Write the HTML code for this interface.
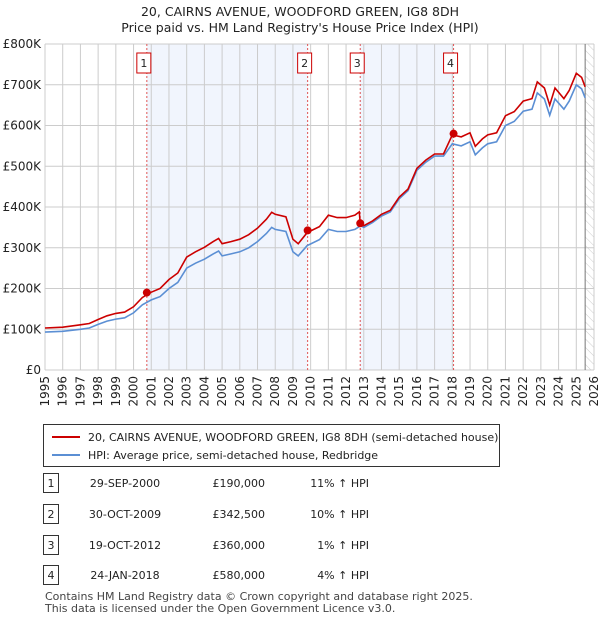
<!DOCTYPE html>
<html><head><meta charset="utf-8"><style>
body{margin:0;background:#fff;font-family:"Liberation Sans","DejaVu Sans",sans-serif;}
svg text{font-family:"DejaVu Sans","Liberation Sans",sans-serif;}
</style></head><body>
<svg id="c" width="600" height="620" xmlns="http://www.w3.org/2000/svg">
<defs><pattern id="hatch" width="6" height="6" patternUnits="userSpaceOnUse" patternTransform="rotate(-45)"><line x1="0" y1="0" x2="0" y2="6" stroke="#ccc" stroke-width="1"/></pattern></defs>
<text x="300" y="16" text-anchor="middle" font-size="12.5" fill="#222">20, CAIRNS AVENUE, WOODFORD GREEN, IG8 8DH</text>
<text x="300" y="32" text-anchor="middle" font-size="12.5" fill="#222">Price paid vs. HM Land Registry's House Price Index (HPI)</text>
<g id="plot"></g>
<g>
<rect x="43.5" y="424.5" width="456" height="42" fill="#fff" stroke="#333"/>
<line x1="52" y1="437" x2="80" y2="437" stroke="#cc0000" stroke-width="2"/>
<text x="88" y="441" font-size="11" fill="#222">20, CAIRNS AVENUE, WOODFORD GREEN, IG8 8DH (semi-detached house)</text>
<line x1="52" y1="455" x2="80" y2="455" stroke="#5b8fd4" stroke-width="2"/>
<text x="88" y="459" font-size="11" fill="#222">HPI: Average price, semi-detached house, Redbridge</text>
</g>
<g id="table" font-size="11" fill="#222"></g>
<text x="45" y="600" font-size="11" fill="#444">Contains HM Land Registry data © Crown copyright and database right 2025.</text>
<text x="45" y="612" font-size="11" fill="#444">This data is licensed under the Open Government Licence v3.0.</text>
</svg>
<script>
const hpiYears=[1995,1996,1997,1997.5,1998,1998.5,1999,1999.5,2000,2000.5,2001,2001.5,2002,2002.5,2003,2003.5,2004,2004.5,2004.8,2005,2005.5,2006,2006.5,2007,2007.5,2007.8,2008,2008.6,2009,2009.3,2009.8,2010.5,2011,2011.5,2012,2012.5,2012.75,2012.8,2013,2013.5,2014,2014.5,2015,2015.5,2016,2016.5,2017,2017.5,2018,2018.5,2019,2019.3,2019.7,2020,2020.5,2021,2021.5,2022,2022.5,2022.8,2023.2,2023.5,2023.8,2024.3,2024.6,2025,2025.3,2025.5];
const hpiValues=[93,95,100,103,112,120,125,128,140,160,172,180,200,215,250,262,272,285,292,280,285,290,300,315,335,350,345,340,290,280,305,320,345,340,340,345,352,355,350,362,378,388,420,440,490,510,525,525,555,550,560,528,545,555,560,600,610,635,640,680,665,625,665,640,660,700,690,668];
const propValues=[103,105,111,114,124,133,139,142,155,178,191,200,222,238,277,290,301,315,323,310,315,321,332,348,370,387,382,376,321,310,337,352,380,374,374,380,388,360,354,366,382,392,424,444,495,515,530,530,577,572,582,549,567,577,582,624,634,660,666,707,692,650,692,666,686,728,718,695];
const saleLabels=["1","2","3","4"];
const saleDates=[2000.75,2009.83,2012.8,2018.07];
const salePrices=[190,342.5,360,580];
const saleDateText=["29-SEP-2000","30-OCT-2009","19-OCT-2012","24-JAN-2018"];
const salePriceText=["£190,000","£342,500","£360,000","£580,000"];
const saleHpiText=["11% ↑ HPI","10% ↑ HPI","1% ↑ HPI","4% ↑ HPI"];
const yTicks=[0,100,200,300,400,500,600,700,800];
const yTickLabels=["£0","£100K","£200K","£300K","£400K","£500K","£600K","£700K","£800K"];
const xTicks=[1995,1996,1997,1998,1999,2000,2001,2002,2003,2004,2005,2006,2007,2008,2009,2010,2011,2012,2013,2014,2015,2016,2017,2018,2019,2020,2021,2022,2023,2024,2025,2026];

const NS="http://www.w3.org/2000/svg";
const L=45,R=594,T=44,B=370;
const xs=v=>L+(v-1995)/31*(R-L);
const ys=v=>B-v/800*(B-T);
const plot=document.getElementById('plot');
function mk(tag,a,parent){const e=document.createElementNS(NS,tag);for(const k in a)e.setAttribute(k,a[k]);(parent||plot).appendChild(e);return e;}
let bg=mk('rect',{x:L,y:T,width:R-L,height:B-T,fill:'#fff'});


// shaded spans
[[0,1],[2,3]].forEach(p=>{const r=mk('rect',{x:xs(saleDates[p[0]]),y:T,width:xs(saleDates[p[1]])-xs(saleDates[p[0]]),height:B-T,fill:'#eef3fc',opacity:0.8});

});
let h=mk('rect',{x:xs(2025.5),y:T,width:R-xs(2025.5),height:B-T,fill:'url(#hatch)'});


xTicks.forEach((t,i)=>{mk('line',{x1:xs(t),x2:xs(t),y1:T,y2:B,stroke:'#ccc','stroke-width':1});
const tx=mk('text',{x:0,y:0,'font-size':12,fill:'#222','text-anchor':'end',transform:`translate(${xs(t)+4},${B+6}) rotate(-90)`});tx.textContent=t;

});
yTicks.forEach((t,i)=>{mk('line',{x1:L,x2:R,y1:ys(t),y2:ys(t),stroke:'#ccc','stroke-width':1});
const tx=mk('text',{x:L-4,y:ys(t)+4,'font-size':12,fill:'#222','text-anchor':'end'});tx.textContent=yTickLabels[i];

});
mk('line',{x1:xs(2025.5),x2:xs(2025.5),y1:T,y2:B,stroke:'#777','stroke-width':1});
saleDates.forEach((d,i)=>{const ln=mk('line',{x1:xs(d),x2:xs(d),y1:T,y2:B,stroke:'#e05555','stroke-width':1,'stroke-dasharray':'2,2'});


const bx=mk('rect',{x:xs(d)-10,y:53,width:14,height:20,fill:'#fff',stroke:'#cc0000'});


const t=mk('text',{x:xs(d)-3,y:67,'font-size':11,fill:'#222','text-anchor':'middle'});t.textContent=saleLabels[i];});
const path=(vals,col,name)=>{let d=hpiYears.map((y,i)=>(i?'L':'M')+xs(y).toFixed(1)+','+ys(vals[i]).toFixed(1)).join('');
const p=mk('path',{d:d,fill:'none',stroke:col,'stroke-width':1.6});

};
path(hpiValues,'#5b8fd4','hpi-line');
path(propValues,'#cc0000','price-paid-line');
saleDates.forEach((d,i)=>{const c=mk('circle',{cx:xs(d),cy:ys(salePrices[i]),r:4,fill:'#cc0000'});

});
const tb=document.getElementById('table');
const rowY=[483,514,545,575];
saleLabels.forEach((s,i)=>{const y=rowY[i];
mk('rect',{x:43.5,y:y-9.5,width:15,height:19,fill:'#fff',stroke:'#333'},tb);
const a=mk('text',{x:51,y:y+4,'text-anchor':'middle'},tb);a.textContent=s;
const b=mk('text',{x:125,y:y+4,'text-anchor':'middle'},tb);b.textContent=saleDateText[i];


const c=mk('text',{x:265,y:y+4,'text-anchor':'end'},tb);c.textContent=salePriceText[i];


const e=mk('text',{x:369,y:y+4,'text-anchor':'end'},tb);e.textContent=saleHpiText[i];

});
</script>
</body></html>
